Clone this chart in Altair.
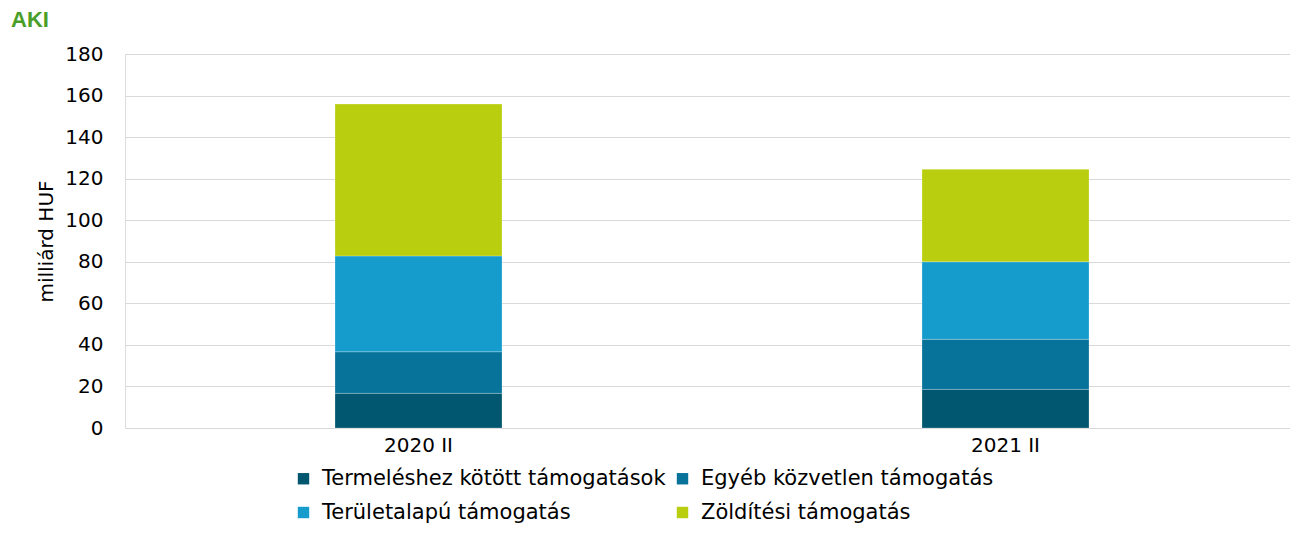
import altair as alt
import pandas as pd

periods = ["2020 II", "2021 II"]
series = [
    "Termeléshez kötött támogatások",
    "Egyéb közvetlen támogatás",
    "Területalapú támogatás",
    "Zöldítési támogatás",
]
colors = ["#00576F", "#07739A", "#159BCC", "#BACE10"]
values = {
    "Termeléshez kötött támogatások": [16.7, 18.6],
    "Egyéb közvetlen támogatás": [20.0, 24.1],
    "Területalapú támogatás": [46.1, 37.3],
    "Zöldítési támogatás": [73.1, 44.5],
}
y_ticks = [0, 20, 40, 60, 80, 100, 120, 140, 160, 180]

rows = []
for si, s in enumerate(series):
    for pi, p in enumerate(periods):
        rows.append({"period": p, "series": s, "value": values[s][pi], "order": si})
df = pd.DataFrame(rows)

FONT = "DejaVu Sans"

bars = alt.Chart(df).mark_bar(size=167, stroke="#ffffff", strokeWidth=0.6, strokeOpacity=0.4).encode(
    x=alt.X("period:N", sort=periods, title=None,
            scale=alt.Scale(paddingInner=0, paddingOuter=0, range=[0, 1174]),
            axis=alt.Axis(labelAngle=0, ticks=False, domain=False, grid=False,
                          labelFont=FONT, labelFontSize=20, labelColor="#000000",
                          labelPadding=7)),
    y=alt.Y("value:Q", stack="zero", title="milliárd HUF",
            scale=alt.Scale(domain=[0, 180], nice=False),
            axis=alt.Axis(values=y_ticks, ticks=False, domain=False, grid=True,
                          gridColor="#d9d9d9", gridWidth=1.2,
                          labelFont=FONT, labelFontSize=20, labelColor="#000000",
                          labelPadding=22, titleFont=FONT, titleFontSize=20,
                          titleFontWeight="normal", titleColor="#000000",
                          titlePadding=8)),
    color=alt.Color("series:N", sort=series,
                    scale=alt.Scale(domain=series, range=colors),
                    legend=alt.Legend(title=None, orient="none", legendX=168, legendY=414,
                                      columns=2, direction="horizontal",
                                      symbolType="square", symbolSize=130,
                                      symbolStrokeWidth=0, symbolOpacity=1,
                                      labelFont=FONT, labelFontSize=21, labelColor="#000000",
                                      labelOffset=8, columnPadding=6, rowPadding=12,
                                      labelLimit=500)),
    order=alt.Order("order:Q", sort="ascending"),
)

logo = alt.Chart(pd.DataFrame({"t": ["AKI"]})).mark_text(
    font="Liberation Sans", fontSize=22, fontWeight="bold",
    color="#4a9e2a", align="left", baseline="middle"
).encode(x=alt.value(-114), y=alt.value(-34), text="t:N")

chart = alt.layer(bars, logo).properties(
    width=1165, height=374,
    autosize=alt.AutoSizeParams(type="none"),
    padding={"left": 117, "top": 46, "right": 0, "bottom": 98},
).configure_view(stroke=None).configure(background="#ffffff")

chart.save("out.html", embed_options={"renderer": "svg", "actions": False})
